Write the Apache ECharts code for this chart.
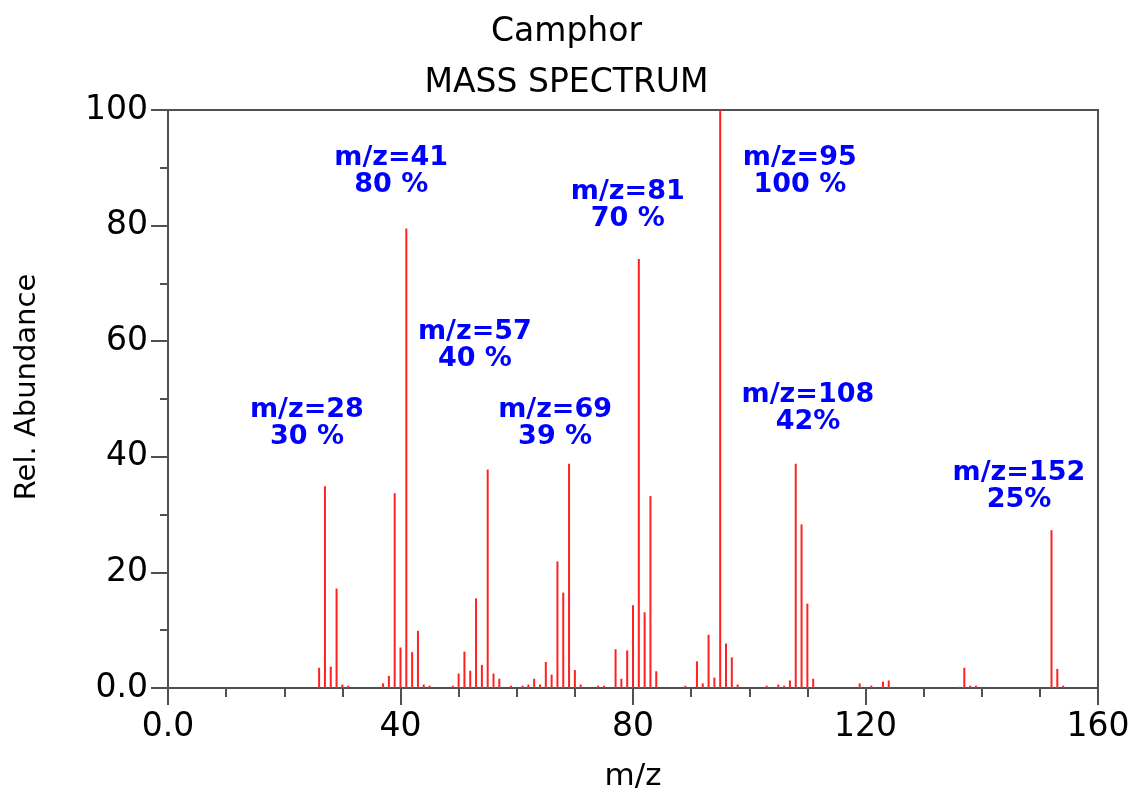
<!DOCTYPE html>
<html>
<head>
<meta charset="utf-8">
<title>Camphor mass spectrum</title>
<script src="https://cdn.jsdelivr.net/npm/echarts@6/dist/echarts.min.js"></script>
<style>
  html, body { margin: 0; padding: 0; background: #fff; }
  #chart { width: 1133px; height: 791px; }
</style>
</head>
<body>
<div id="chart"></div>
<script>
// m/z and relative abundance
var mzValues = [26, 27, 28, 29, 30, 31, 37, 38, 39, 40, 41, 42, 43, 44, 45,
  49, 50, 51, 52, 53, 54, 55, 56, 57, 59, 61, 62, 63, 64, 65, 66, 67, 68, 69, 70, 71,
  74, 75, 77, 78, 79, 80, 81, 82, 83, 84, 89, 91, 92, 93, 94, 95, 96, 97, 98,
  103, 105, 106, 107, 108, 109, 110, 111, 119, 121, 123, 124, 136, 137, 138, 139,
  152, 153, 154];
var abundance = [3.5, 34.9, 3.7, 17.2, 0.6, 0.4, 0.8, 2.1, 33.7, 7.0, 79.5, 6.2, 9.9, 0.6, 0.4,
  0.4, 2.5, 6.3, 3.0, 15.5, 4.0, 37.8, 2.5, 1.6, 0.4, 0.4, 0.6, 1.6, 0.6, 4.5, 2.3, 21.9, 16.5, 38.8, 3.1, 0.6,
  0.4, 0.4, 6.7, 1.6, 6.5, 14.3, 74.2, 13.1, 33.2, 2.9, 0.4, 4.6, 0.8, 9.2, 1.8, 100, 7.7, 5.3, 0.6,
  0.4, 0.6, 0.4, 1.3, 38.8, 28.3, 14.6, 1.6, 0.8, 0.4, 1.1, 1.3, 0.2, 3.5, 0.4, 0.4,
  27.3, 3.3, 0.4];

// peak annotations and where their text blocks sit (data coords)
var noteTexts = ['m/z=28\n30 %', 'm/z=41\n80 %', 'm/z=57\n40 %', 'm/z=69\n39 %',
  'm/z=81\n70 %', 'm/z=95\n100 %', 'm/z=108\n42%', 'm/z=152\n25%'];
var noteX = [23.9, 38.4, 52.8, 66.6, 79.1, 108.7, 110.1, 146.4];
var noteY = [45.8, 89.3, 59.2, 45.7, 83.4, 89.3, 48.4, 34.8];

var font = 'DejaVu Sans';
var axisColor = '#505050';

function tickFmt(v) {
  return v === 0 ? '0.0' : String(v);
}

var peaks = [];
for (var i = 0; i < mzValues.length; i++) {
  peaks.push([mzValues[i], abundance[i]]);
}
var notes = [];
for (var j = 0; j < noteTexts.length; j++) {
  notes.push({ name: noteTexts[j], value: [noteX[j], noteY[j]] });
}

var option = {
  animation: false,
  title: {
    text: 'Camphor\nMASS SPECTRUM',
    left: 'center',
    top: 7,
    padding: 0,
    textStyle: {
      fontFamily: font,
      fontSize: 33,
      fontWeight: 'normal',
      color: '#000',
      lineHeight: 51
    }
  },
  grid: {
    left: 168,
    right: 35,
    top: 110,
    bottom: 103,
    outerBoundsMode: 'none',
    show: true,
    borderColor: axisColor,
    borderWidth: 2
  },
  xAxis: {
    type: 'value',
    min: 0,
    max: 160,
    interval: 40,
    name: 'm/z',
    nameLocation: 'middle',
    nameGap: 73,
    nameTextStyle: { fontFamily: font, fontSize: 31, color: '#000' },
    axisLine: { show: true, lineStyle: { color: axisColor, width: 2 } },
    axisTick: { show: true, length: 17, lineStyle: { color: axisColor, width: 2 } },
    minorTick: { show: true, splitNumber: 4, length: 9, lineStyle: { color: axisColor, width: 2 } },
    splitLine: { show: false },
    axisLabel: { fontFamily: font, fontSize: 33, color: '#000', margin: 23, formatter: tickFmt }
  },
  yAxis: {
    type: 'value',
    min: 0,
    max: 100,
    interval: 20,
    name: 'Rel. Abundance',
    nameLocation: 'middle',
    nameGap: 126,
    nameTextStyle: { fontFamily: font, fontSize: 29, color: '#000', padding: [0, 0, 0, 24] },
    axisLine: { show: true, lineStyle: { color: axisColor, width: 2 } },
    axisTick: { show: true, length: 17, lineStyle: { color: axisColor, width: 2 } },
    minorTick: { show: true, splitNumber: 2, length: 8, lineStyle: { color: axisColor, width: 2 } },
    splitLine: { show: false },
    axisLabel: { fontFamily: font, fontSize: 33, color: '#000', margin: 20, formatter: tickFmt }
  },
  series: [
    {
      type: 'bar',
      name: 'Camphor',
      data: peaks,
      barWidth: 2,
      itemStyle: { color: '#ff2020' },
      silent: true
    },
    {
      type: 'scatter',
      name: 'notes',
      data: notes,
      symbolSize: 1,
      itemStyle: { color: 'rgba(0,0,0,0)', opacity: 1 },
      silent: true,
      label: {
        show: true,
        position: 'inside',
        formatter: '{b}',
        fontFamily: font,
        fontSize: 27,
        fontWeight: 'bold',
        color: '#0000ff',
        lineHeight: 27,
        align: 'center'
      }
    }
  ]
};

var chart = echarts.init(document.getElementById('chart'), null, { renderer: 'canvas' });
chart.setOption(option);
</script>
</body>
</html>
